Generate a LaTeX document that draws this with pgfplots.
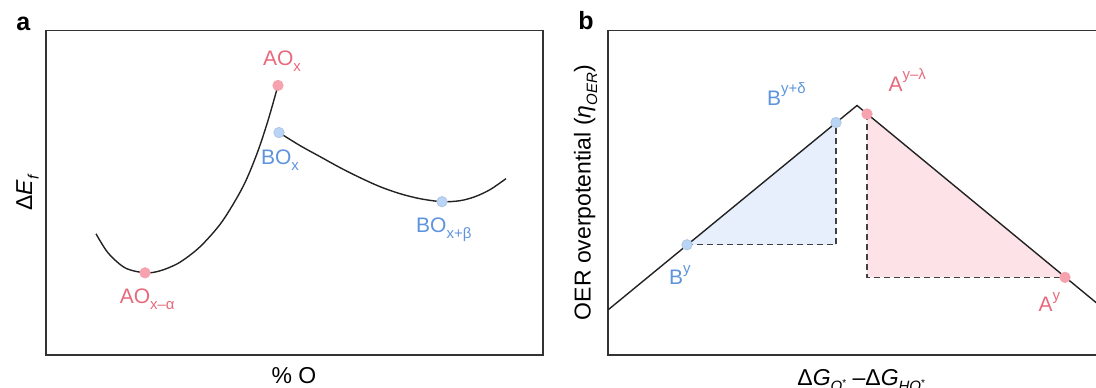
\documentclass[border=0pt]{standalone}
\usepackage{fontspec}
\setmainfont{Liberation Sans}
\usepackage{pgfplots}
\pgfplotsset{compat=1.18}
\definecolor{pinkm}{HTML}{F7A3AF}
\definecolor{pinkt}{HTML}{E8697C}
\definecolor{bluem}{HTML}{B9D4F5}
\definecolor{bluet}{HTML}{5E94DD}
\definecolor{bluef}{HTML}{E6EFFB}
\definecolor{pinkf}{HTML}{FDE3E7}
\definecolor{framec}{HTML}{333333}
\definecolor{curvec}{HTML}{222222}
\newcommand\lab{\fontsize{10.5}{12}\selectfont}
\newcommand\axl{\fontsize{11.5}{13}\selectfont}
\newcommand\sub[1]{\raisebox{-0.28em}{\fontsize{7.5}{8}\selectfont #1}}
\newcommand\super[1]{\raisebox{0.55em}{\fontsize{7.5}{8}\selectfont #1}}
\pgfplotsset{
  panel/.style={scale only axis, width=248.5pt, height=162pt,
    ymin=32, ymax=356, enlargelimits=false,
    xtick=\empty, ytick=\empty,
    axis line style={draw=framec, line width=0.75pt},
    clip=false},
  pmark/.style={only marks, mark=*, mark size=2.6pt, mark options={fill=pinkm, draw=pinkm}},
  bmark/.style={only marks, mark=*, mark size=2.6pt, mark options={fill=bluem, draw=bluem!85!gray}},
}
\begin{document}
\begin{tikzpicture}
% ---------------- panel a
\begin{axis}[panel, at={(23pt,16pt)}, anchor=south west, xmin=46, xmax=543]
\addplot[smooth, curvec, line width=0.7pt] coordinates {
(96,153) (108,134) (125,119) (145,114) (160,116) (179,124) (200,140)
(222,165) (243,200) (257,233) (268,266) (278,301)};
\addplot[smooth, curvec, line width=0.7pt] coordinates {
(279,254) (300,241) (320,230) (340,219) (360,209) (380,200) (400,193)
(420,188) (442,185) (460,186) (475,190) (490,197) (506,208)};
\addplot[pmark] coordinates {(145,114) (278,301)};
\addplot[bmark] coordinates {(279,254) (442,185)};
\node[anchor=base west, inner sep=0pt, text=pinkt] at (axis cs:262.6,321) {\lab AO\sub{x}};
\node[anchor=base west, inner sep=0pt, text=bluet] at (axis cs:260.7,222) {\lab BO\sub{x}};
\node[anchor=base west, inner sep=0pt, text=bluet] at (axis cs:415.8,154.6) {\lab BO\sub{x+β}};
\node[anchor=base west, inner sep=0pt, text=pinkt] at (axis cs:119.4,83) {\lab AO\sub{x–α}};
\node[rotate=90, inner sep=0pt] at (axis cs:27.5,194) {\axl Δ\textit{E}\sub{\textit{f}}};
\node[anchor=base, inner sep=0pt] at (axis cs:294,4) {\axl \% O};
\node[anchor=base west, inner sep=0pt] at (axis cs:16,356) {\fontsize{12.5}{14}\selectfont\bfseries a};
\end{axis}
% ---------------- panel b
\begin{axis}[panel, at={(304pt,16pt)}, anchor=south west, xmin=608, xmax=1105]
\addplot[fill=bluef, draw=none] coordinates {(687,142) (836,264) (836,142)};
\addplot[fill=pinkf, draw=none] coordinates {(867,272.5) (867,109.5) (1065,109.5)};
\addplot[densely dashed, draw=black!75, line width=0.6pt] coordinates {(687,142) (836,142) (836,264)};
\addplot[densely dashed, draw=black!75, line width=0.6pt] coordinates {(867,272.5) (867,109.5) (1065,109.5)};
\addplot[curvec, line width=0.7pt] coordinates {(608,77) (857,281) (1105,77)};
\addplot[bmark] coordinates {(687,142) (836,264)};
\addplot[pmark] coordinates {(867,272.5) (1065,109.5)};
\node[anchor=base west, inner sep=0pt, text=bluet] at (axis cs:766.8,281) {\lab B\super{y+δ}};
\node[anchor=base west, inner sep=0pt, text=pinkt] at (axis cs:888.2,295.3) {\lab A\super{y–λ}};
\node[anchor=base west, inner sep=0pt, text=bluet] at (axis cs:668.7,102) {\lab B\super{y}};
\node[anchor=base west, inner sep=0pt, text=pinkt] at (axis cs:1038.3,75.3) {\lab A\super{y}};
\node[rotate=90, inner sep=0pt] at (axis cs:585.6,194) {\axl OER overpotential (\textit{η}\sub{\textit{OER}})};
\node[anchor=base west, inner sep=0pt] at (axis cs:797,2) {\axl Δ\textit{G}\sub{\textit{O}\raisebox{0.35em}{\fontsize{5}{5}\selectfont *}} –Δ\textit{G}\sub{\textit{HO}\raisebox{0.35em}{\fontsize{5}{5}\selectfont *}}};
\node[anchor=base west, inner sep=0pt] at (axis cs:578,357) {\fontsize{12.5}{14}\selectfont\bfseries b};
\end{axis}
\pgfresetboundingbox
\path[use as bounding box] (0pt,0pt) rectangle (548pt,193.5pt);
\end{tikzpicture}
\end{document}
